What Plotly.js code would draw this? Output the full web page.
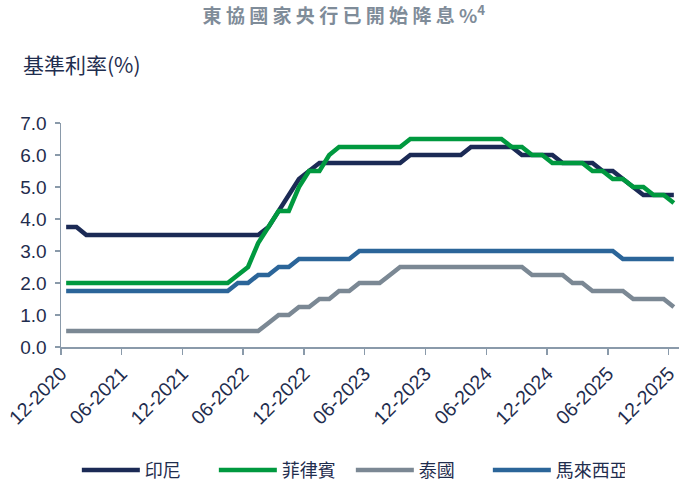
<!DOCTYPE html>
<html>
<head>
<meta charset="utf-8">
<script src="https://cdn.plot.ly/plotly-3.0.1.min.js"></script>
<style>
  html, body { margin: 0; padding: 0; background: #ffffff; }
  #chart { width: 692px; height: 483px; }
</style>
</head>
<body>
<div id="chart"></div>
<script>
// Months (Dec 2020 .. Dec 2025), monthly policy rates
var months = [
  "2020-12",
  "2021-01","2021-02","2021-03","2021-04","2021-05","2021-06","2021-07","2021-08","2021-09","2021-10","2021-11","2021-12",
  "2022-01","2022-02","2022-03","2022-04","2022-05","2022-06","2022-07","2022-08","2022-09","2022-10","2022-11","2022-12",
  "2023-01","2023-02","2023-03","2023-04","2023-05","2023-06","2023-07","2023-08","2023-09","2023-10","2023-11","2023-12",
  "2024-01","2024-02","2024-03","2024-04","2024-05","2024-06","2024-07","2024-08","2024-09","2024-10","2024-11","2024-12",
  "2025-01","2025-02","2025-03","2025-04","2025-05","2025-06","2025-07","2025-08","2025-09","2025-10","2025-11","2025-12"
];

var indonesia = [
  3.75,
  3.75,3.5,3.5,3.5,3.5,3.5,3.5,3.5,3.5,3.5,3.5,3.5,
  3.5,3.5,3.5,3.5,3.5,3.5,3.5,3.75,4.25,4.75,5.25,5.5,
  5.75,5.75,5.75,5.75,5.75,5.75,5.75,5.75,5.75,6.0,6.0,6.0,
  6.0,6.0,6.0,6.25,6.25,6.25,6.25,6.25,6.0,6.0,6.0,6.0,
  5.75,5.75,5.75,5.75,5.5,5.5,5.25,5.0,4.75,4.75,4.75,4.75
];

var philippines = [
  2.0,
  2.0,2.0,2.0,2.0,2.0,2.0,2.0,2.0,2.0,2.0,2.0,2.0,
  2.0,2.0,2.0,2.0,2.25,2.5,3.25,3.75,4.25,4.25,5.0,5.5,
  5.5,6.0,6.25,6.25,6.25,6.25,6.25,6.25,6.25,6.5,6.5,6.5,
  6.5,6.5,6.5,6.5,6.5,6.5,6.5,6.25,6.25,6.0,6.0,5.75,
  5.75,5.75,5.75,5.5,5.5,5.25,5.25,5.0,5.0,4.75,4.75,4.5
];

var thailand = [
  0.5,
  0.5,0.5,0.5,0.5,0.5,0.5,0.5,0.5,0.5,0.5,0.5,0.5,
  0.5,0.5,0.5,0.5,0.5,0.5,0.5,0.75,1.0,1.0,1.25,1.25,
  1.5,1.5,1.75,1.75,2.0,2.0,2.0,2.25,2.5,2.5,2.5,2.5,
  2.5,2.5,2.5,2.5,2.5,2.5,2.5,2.5,2.5,2.25,2.25,2.25,
  2.25,2.0,2.0,1.75,1.75,1.75,1.75,1.5,1.5,1.5,1.5,1.25
];

var malaysia = [
  1.75,
  1.75,1.75,1.75,1.75,1.75,1.75,1.75,1.75,1.75,1.75,1.75,1.75,
  1.75,1.75,1.75,1.75,2.0,2.0,2.25,2.25,2.5,2.5,2.75,2.75,
  2.75,2.75,2.75,2.75,3.0,3.0,3.0,3.0,3.0,3.0,3.0,3.0,
  3.0,3.0,3.0,3.0,3.0,3.0,3.0,3.0,3.0,3.0,3.0,3.0,
  3.0,3.0,3.0,3.0,3.0,3.0,2.75,2.75,2.75,2.75,2.75,2.75
];

var seriesNames = ["印尼", "菲律賓", "泰國", "馬來西亞"];
var seriesColors = ["#1B2A55", "#00993F", "#7B8894", "#2B6599"];
var seriesValues = [indonesia, philippines, thailand, malaysia];

var chartTitle = "東 協 國 家 央 行 已 開 始 降 息 %<sup>4</sup>";
var yTitle = "基準利率(%)";

var FONT = "'Liberation Sans', Arial, 'Noto Sans CJK TC', sans-serif";
var CJK = "'Noto Sans CJK TC', 'Liberation Sans', sans-serif";
var TEXT = "#1F2D4E";
var AXIS = "#8A9AAA";

var traces = seriesValues.map(function (vals, i) {
  return {
    type: "scatter",
    mode: "lines",
    x: months,
    y: vals,
    xperiod: "M1",
    xperiodalignment: "middle",
    name: seriesNames[i],
    line: { color: seriesColors[i], width: 4.5, shape: "linear" },
    hoverinfo: "skip"
  };
});

var layout = {
  width: 692,
  height: 483,
  paper_bgcolor: "#ffffff",
  plot_bgcolor: "#ffffff",
  margin: { l: 61, r: 13, t: 123, b: 136, autoexpand: false },
  font: { family: FONT, color: TEXT, size: 18 },
  title: {
    text: chartTitle,
    font: { family: CJK, size: 19, color: "#7F8C99", weight: "bold" },
    xref: "container", x: 0.497, xanchor: "center",
    yref: "container", y: 0.966, yanchor: "middle"
  },
  xaxis: {
    type: "date",
    range: ["2020-12-01", "2026-01-01"],
    tick0: "2020-12-01",
    dtick: "M6",
    tickformat: "%m-%Y",
    tickangle: -45,
    ticks: "outside",
    ticklen: 6,
    tickwidth: 1.5,
    tickcolor: AXIS,
    showline: true,
    linecolor: AXIS,
    linewidth: 1.5,
    showgrid: false,
    zeroline: false,
    tickfont: { family: FONT, size: 19.5, color: TEXT },
    fixedrange: true
  },
  yaxis: {
    range: [0, 7],
    dtick: 1,
    tick0: 0,
    tickformat: ".1f",
    ticks: "outside",
    ticklen: 5,
    tickwidth: 1.5,
    tickcolor: AXIS,
    showline: true,
    linecolor: AXIS,
    linewidth: 1.5,
    showgrid: false,
    zeroline: false,
    tickfont: { family: FONT, size: 19, color: TEXT },
    ticklabelstandoff: 4,
    fixedrange: true
  },
  showlegend: true,
  legend: {
    orientation: "h",
    x: 0.469, xanchor: "center",
    y: -0.55, yanchor: "middle",
    font: { family: CJK, size: 18, color: TEXT },
    itemwidth: 58,
    entrywidth: 64,
    traceorder: "normal",
    bgcolor: "rgba(0,0,0,0)"
  },
  annotations: [{
    text: yTitle,
    xref: "paper", yref: "paper",
    x: -0.064, xanchor: "left",
    y: 1.262, yanchor: "middle",
    showarrow: false,
    font: { family: CJK, size: 21, color: TEXT }
  }]
};

Plotly.newPlot("chart", traces, layout, { displayModeBar: false, staticPlot: true });
</script>
</body>
</html>
